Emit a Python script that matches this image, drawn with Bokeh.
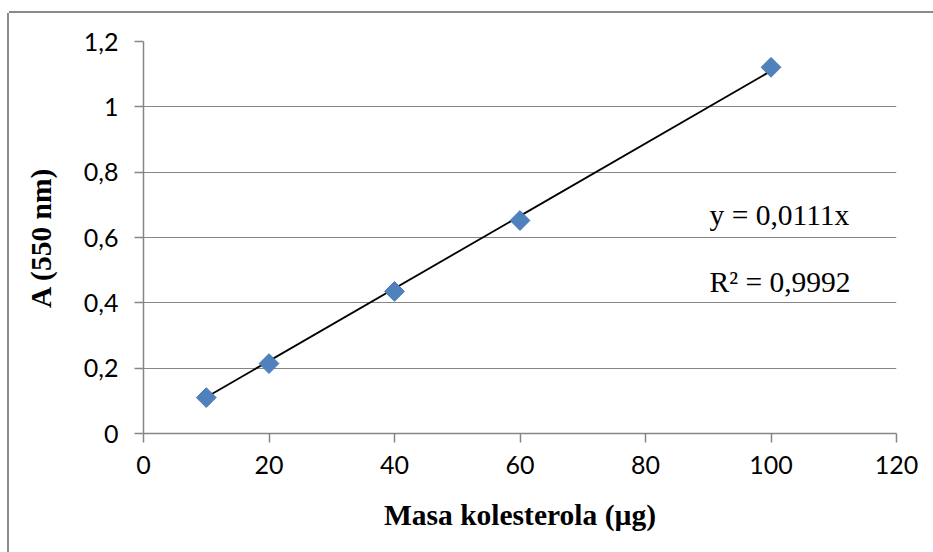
from bokeh.plotting import figure
from bokeh.models import Range1d, Label, FixedTicker, CustomJSTickFormatter, ColumnDataSource
from bokeh.embed import file_html
from bokeh.resources import INLINE
import numpy as np

# Calibration data: cholesterol mass (µg) vs absorbance at 550 nm
masa = [10, 20, 40, 60, 100]
apsorbancija = [0.110, 0.214, 0.435, 0.652, 1.121]

# Linear fit through the origin
nagib = 0.0111
r2 = 0.9992
fit_x = [10, 100]

x_ticks = [0, 20, 40, 60, 80, 100, 120]
y_ticks = [0, 0.2, 0.4, 0.6, 0.8, 1.0, 1.2]

AXIS_GRAY = "#868686"

p = figure(width=924, height=539, output_backend="svg", toolbar_location=None,
           x_range=Range1d(0, 120), y_range=Range1d(0, 1.2),
           min_border_left=134, min_border_right=37,
           min_border_top=28, min_border_bottom=119,
           margin=(13, 0, 0, 9))
# chart area border on the top and left edges only
p.styles = {"box-shadow": "0 -2px 0 0 #8a8a8a, -2px 0 0 0 #8a8a8a",
            "background-color": "white"}
p.outline_line_color = None
p.background_fill_color = "white"
p.border_fill_color = "white"

# grid: horizontal only
p.xgrid.grid_line_color = None
p.ygrid.grid_line_color = AXIS_GRAY
p.ygrid.grid_line_width = 1
p.ygrid.ticker = FixedTicker(ticks=y_ticks)

fmt = CustomJSTickFormatter(code="""
    const v = Math.round(tick * 10) / 10;
    return v.toString().replace('.', ',');
""")

for ax, ticks in ((p.xaxis[0], x_ticks), (p.yaxis[0], y_ticks)):
    ax.ticker = FixedTicker(ticks=ticks)
    ax.axis_line_color = AXIS_GRAY
    ax.axis_line_width = 1.5
    ax.major_tick_line_color = AXIS_GRAY
    ax.major_tick_line_width = 1.5
    ax.major_tick_in = 0
    ax.major_tick_out = 9
    ax.minor_tick_line_color = None
    ax.major_label_text_font = "Lato"
    ax.major_label_text_font_size = "25px"
    ax.major_label_text_color = "black"
    ax.axis_label_text_font = "Liberation Serif"
    ax.axis_label_text_font_style = "bold"
    ax.axis_label_text_font_size = "29.5px"
    ax.axis_label_text_color = "black"

p.yaxis[0].formatter = fmt
p.yaxis[0].major_label_standoff = 16
p.yaxis[0].axis_label = "A (550 nm)"
p.yaxis[0].axis_label_standoff = 24

p.xaxis[0].major_label_standoff = 13
p.xaxis[0].axis_label = "Masa kolesterola (µg)"
p.xaxis[0].axis_label_standoff = 22

# trendline
p.line(fit_x, [nagib * v for v in fit_x], line_color="black", line_width=1.8)

# measured points as diamonds
src = ColumnDataSource(dict(x=masa, y=apsorbancija))
p.scatter("x", "y", source=src, marker="square", angle=np.pi / 4, size=14,
          fill_color="#4f81bd", line_color="#4a7ab3", line_width=1)

# fit annotations
eq_font = "Liberation Serif"
p.add_layout(Label(x=90.2, y=0.67, text="y = 0,0111x", text_font=eq_font,
                   text_font_size="29.5px", text_baseline="middle", text_color="black"))
p.add_layout(Label(x=90.2, y=0.465, text="R² = 0,9992", text_font=eq_font,
                   text_font_size="29.5px", text_baseline="middle", text_color="black"))

open("out.html", "w").write(file_html(p, INLINE))
